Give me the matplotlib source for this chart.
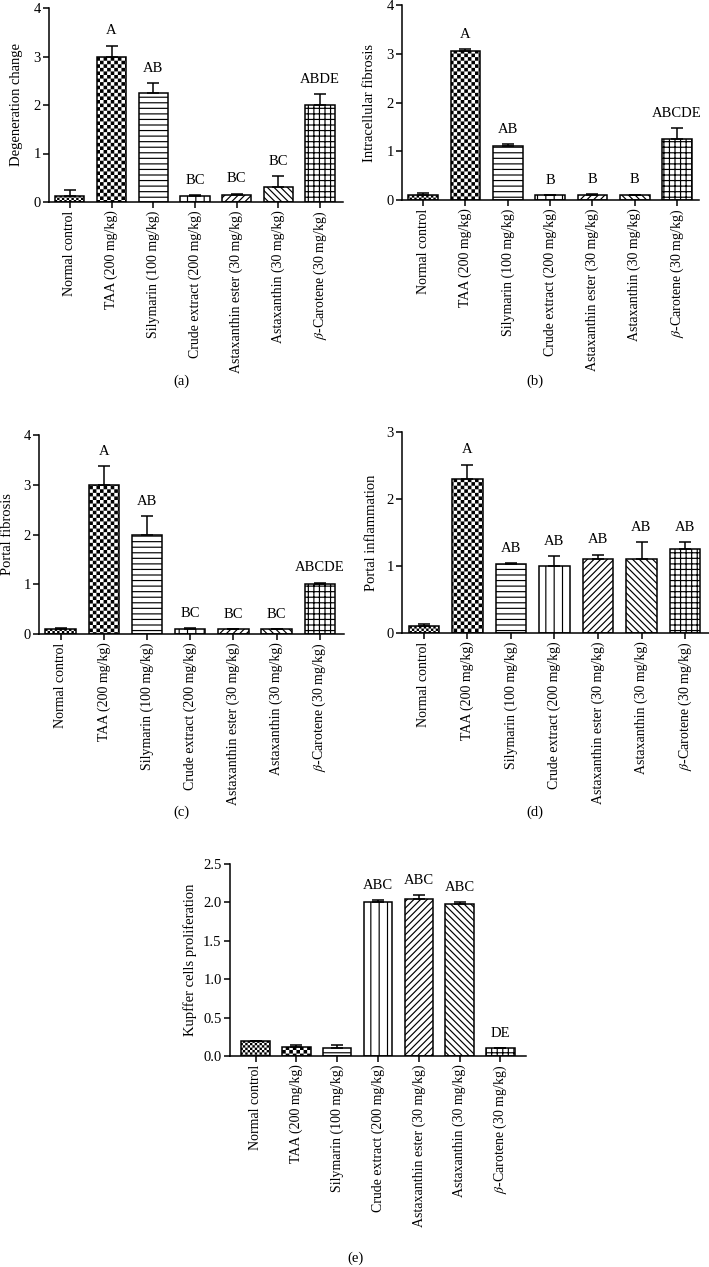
import numpy as np
import matplotlib
matplotlib.use('Agg')
import matplotlib as mpl
import matplotlib.pyplot as plt
import matplotlib.hatch as mhatch
from matplotlib.path import Path

# ---------------- data ----------------
groups = ['Normal control', 'TAA (200 mg/kg)', 'Silymarin (100 mg/kg)',
          'Crude extract (200 mg/kg)', 'Astaxanthin ester (30 mg/kg)',
          'Astaxanthin (30 mg/kg)', r'$\beta$-Carotene (30 mg/kg)']

deg_mean = [0.12, 3.00, 2.25, 0.12, 0.15, 0.30, 2.00]
deg_err = [0.13, 0.22, 0.20, 0.02, 0.02, 0.23, 0.22]
deg_sig = ['', 'A', 'AB', 'BC', 'BC', 'BC', 'ABDE']

intra_mean = [0.11, 3.05, 1.11, 0.10, 0.10, 0.10, 1.25]
intra_err = [0.03, 0.04, 0.03, 0.00, 0.02, 0.01, 0.22]
intra_sig = ['', 'A', 'AB', 'B', 'B', 'B', 'ABCDE']

pfib_mean = [0.10, 3.00, 2.00, 0.10, 0.10, 0.10, 1.00]
pfib_err = [0.02, 0.37, 0.37, 0.02, 0.00, 0.00, 0.03]
pfib_sig = ['', 'A', 'AB', 'BC', 'BC', 'BC', 'ABCDE']

pinf_mean = [0.10, 2.30, 1.03, 1.00, 1.10, 1.10, 1.25]
pinf_err = [0.04, 0.21, 0.01, 0.15, 0.07, 0.26, 0.11]
pinf_sig = ['', 'A', 'AB', 'AB', 'AB', 'AB', 'AB']

kup_mean = [0.20, 0.12, 0.10, 2.00, 2.05, 1.98, 0.10]
kup_err = [0.00, 0.02, 0.04, 0.03, 0.04, 0.02, 0.00]
kup_sig = ['', '', '', 'ABC', 'ABC', 'ABC', 'DE']

# ---------------- style ----------------
plt.rcParams['font.family'] = ['Liberation Serif', 'DejaVu Serif']
plt.rcParams['mathtext.fontset'] = 'stix'
plt.rcParams['hatch.linewidth'] = 0.85
plt.rcParams['font.size'] = 10


class CheckerHatch(mhatch.HatchPatternBase):
    """Checkerboard hatch, selected with the 'o' character."""
    def __init__(self, hatch, density):
        k = hatch.count('o')
        self.n = 14 * k
        self.num_vertices = (self.n * self.n // 2) * 5 if k else 0

    def set_vertices_and_codes(self, vertices, codes):
        n = self.n
        c = 1.0 / n
        d = min(mpl.rcParams['hatch.linewidth'] / 144.0, c * 0.3)
        k = 0
        for i in range(n):
            for j in range(n):
                if (i + j) % 2 == 0:
                    x0, y0 = i * c + d, j * c + d
                    x1, y1 = (i + 1) * c - d, (j + 1) * c - d
                    vertices[k:k + 5] = [(x0, y0), (x1, y0), (x1, y1),
                                         (x0, y1), (x0, y0)]
                    codes[k:k + 5] = [Path.MOVETO, Path.LINETO, Path.LINETO,
                                      Path.LINETO, Path.CLOSEPOLY]
                    k += 5


try:
    _idx = mhatch._hatch_types.index(mhatch.SmallCircles)
    mhatch._hatch_types[_idx] = CheckerHatch
    hatches = ['ooo', 'oo', '---', '||', '/////', '\\\\\\\\\\', '+++']
except Exception:
    hatches = ['....', 'xxxx', '---', '||', '/////', '\\\\\\\\\\', '+++']

W, H = 709, 1267
fig = plt.figure(figsize=(W / 100, H / 100), dpi=100)


def px_axes(left, right, bottom, top):
    return fig.add_axes([left / W, 1 - bottom / H, (right - left) / W,
                         (bottom - top) / H])


def panel(ax, means, errs, sigs, ylabel, ymax, yticks, xlim, label_x,
          fmt=None):
    x = np.arange(len(groups))
    ax.bar(x, means, width=0.70, color='white', edgecolor='black',
           linewidth=1.1, hatch=hatches, zorder=2)
    ax.errorbar(x, means, yerr=[np.zeros(len(errs)), errs], fmt='none',
                ecolor='black', elinewidth=1.1, capsize=4, capthick=1.1,
                zorder=3)
    for xi, m, e, s in zip(x, means, errs, sigs):
        if s:
            ax.annotate(s, xy=(xi, m + e), xytext=(0, 6),
                        textcoords='offset points', ha='center',
                        va='bottom', fontsize=10.5)
    ax.set_xlim(*xlim)
    ax.set_ylim(0, ymax)
    ax.set_yticks(yticks)
    if fmt:
        ax.set_yticklabels([fmt % v for v in yticks])
    ax.set_xticks(x)
    ax.set_xticklabels(groups, rotation=90, fontsize=10)
    for sp in ['top', 'right']:
        ax.spines[sp].set_visible(False)
    for sp in ['left', 'bottom']:
        ax.spines[sp].set_linewidth(1.1)
    ax.tick_params(axis='both', direction='out', length=4, width=1.1,
                   pad=2)
    ax.tick_params(axis='y', labelsize=10.5)
    ax.set_ylabel(ylabel, fontsize=10.5, va='center')
    ax.yaxis.set_label_coords(label_x, 0.5)


ax_a = px_axes(49, 343, 202, 8)
panel(ax_a, deg_mean, deg_err, deg_sig, 'Degeneration change', 4,
      [0, 1, 2, 3, 4], (-0.5, 6.55), -0.112)

ax_b = px_axes(402, 699, 200, 5)
panel(ax_b, intra_mean, intra_err, intra_sig, 'Intracellular fibrosis', 4,
      [0, 1, 2, 3, 4], (-0.5, 6.52), -0.108)

ax_c = px_axes(39, 344, 634, 435)
panel(ax_c, pfib_mean, pfib_err, pfib_sig, 'Portal fibrosis', 4,
      [0, 1, 2, 3, 4], (-0.5, 6.56), -0.104)

ax_d = px_axes(402, 709, 633, 432)
panel(ax_d, pinf_mean, pinf_err, pinf_sig, 'Portal inflammation', 3,
      [0, 1, 2, 3], (-0.5, 6.55), -0.099)

ax_e = px_axes(230, 526, 1056, 864)
panel(ax_e, kup_mean, kup_err, kup_sig, 'Kupffer cells proliferation', 2.5,
      [0.0, 0.5, 1.0, 1.5, 2.0, 2.5], (-0.63, 6.63), -0.135, fmt='%.1f')

for txt, xp, yp in [('(a)', 181, 381), ('(b)', 535, 381), ('(c)', 181, 812),
                    ('(d)', 535, 812), ('(e)', 355, 1258)]:
    fig.text(xp / W, 1 - yp / H, txt, ha='center', va='center', fontsize=10.5)

fig.savefig('out.png', dpi=100)
